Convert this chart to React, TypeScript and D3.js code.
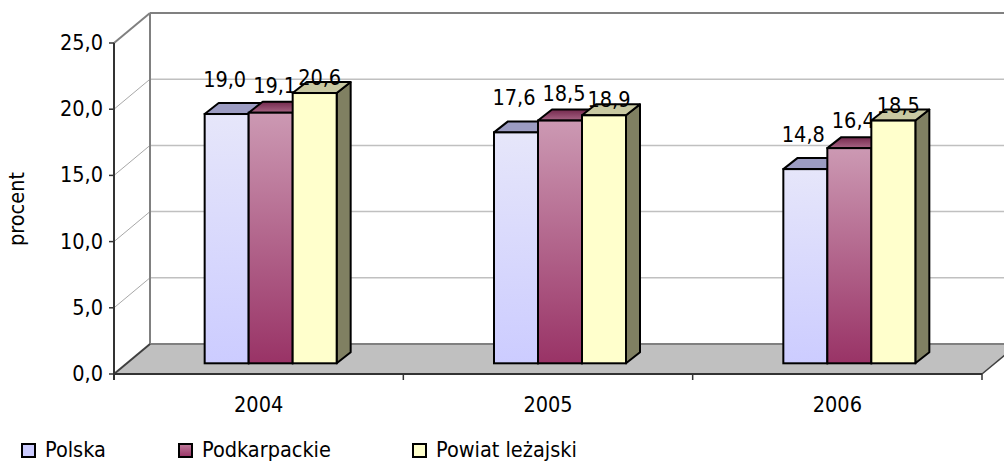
import React from 'react';
import * as d3 from 'd3';

const years = ['2004', '2005', '2006'];
const seriesNames = ['Polska', 'Podkarpackie', 'Powiat leżajski'];
const polska = [19.0, 17.6, 14.8];
const podkarpackie = [19.1, 18.5, 16.4];
const powiat = [20.6, 18.9, 18.5];
const yTicks = [0, 5, 10, 15, 20, 25];
const yTitle = 'procent';

const FONT = "'DejaVu Sans Condensed', 'DejaVu Sans', sans-serif";
const FS = 21.5;

const W = 1004;
const H = 461;
// oblique 3D geometry
const DX = 36; // floor/wall depth
const DY = 30;
const BDX = 14; // bar depth
const BDY = 11;
const BAR_OFF_X = 12; // bar front face offset into floor
const BAR_W = 44;

const fmt = (v: number) => d3.format('.1f')(v).replace('.', ',');

export default function App() {
  const series = [polska, podkarpackie, powiat];
  const x = d3.scaleBand<string>().domain(years).range([114, 982]).padding(0);
  const yF = d3.scaleLinear().domain([0, 25]).range([374, 43]);
  const yB = d3.scaleLinear().domain([0, 25]).range([363.3, 35.3]);
  const bw = x.bandwidth();
  const x0 = 114;
  const x1 = 982;

  const frontFills = ['url(#gPolska)', 'url(#gPodk)', '#FFFFCC'];
  const topFills = ['#9C9CC2', 'url(#gPodkTop)', '#C8C8A2'];
  const sideFills = ['#8888AA', '#6E2446', '#808062'];
  const legendFills = ['#CCCCFF', 'url(#gPodkLeg)', '#FFFFCC'];
  const labelDy = [27, 20, 8];
  const labelDx = [-2, 4, 5];

  const pts = (p: number[][]) => p.map((q) => q.join(',')).join(' ');

  return (
    <svg width={W} height={H} style={{ position: 'fixed', left: 0, top: 0, background: '#fff' }} fontFamily={FONT}>
      <defs>
        <linearGradient id="gPolska" x1="0" y1="0" x2="0" y2="1">
          <stop offset="0" stopColor="#E6E6FA" />
          <stop offset="1" stopColor="#CCCCFF" />
        </linearGradient>
        <linearGradient id="gPodk" x1="0" y1="0" x2="0" y2="1">
          <stop offset="0" stopColor="#CC99B3" />
          <stop offset="1" stopColor="#993366" />
        </linearGradient>
        <linearGradient id="gPodkTop" x1="0" y1="1" x2="0" y2="0">
          <stop offset="0" stopColor="#A86585" />
          <stop offset="1" stopColor="#73294D" />
        </linearGradient>
        <linearGradient id="gPodkLeg" x1="0" y1="0" x2="0" y2="1">
          <stop offset="0" stopColor="#C07C9C" />
          <stop offset="1" stopColor="#993366" />
        </linearGradient>
      </defs>

      {/* back wall */}
      <polygon points={pts([[x0 + DX, yF(25) - DY], [x1 + DX, yF(25) - DY], [x1 + DX, yF(0) - DY], [x0 + DX, yF(0) - DY]])} fill="#fff" />
      {/* back wall gridlines */}
      {yTicks.filter((t) => t > 0 && t < 25).map((t) => (
        <line key={'bg' + t} x1={x0 + DX} x2={x1 + DX} y1={yF(t) - DY} y2={yF(t) - DY} stroke="#C0C0C0" strokeWidth={1.5} />
      ))}
      {/* side wall gridlines */}
      {yTicks.filter((t) => t > 0 && t < 25).map((t) => (
        <line key={'sg' + t} x1={x0} x2={x0 + DX} y1={yF(t)} y2={yF(t) - DY} stroke="#A8A8A8" strokeWidth={1} />
      ))}
      {/* wall outlines */}
      <line x1={x0 + DX} x2={x1 + DX} y1={yF(25) - DY} y2={yF(25) - DY} stroke="#808080" strokeWidth={2} />
      <line x1={x0 + DX} x2={x0 + DX} y1={yF(25) - DY} y2={yF(0) - DY} stroke="#808080" strokeWidth={2} />
      <line x1={x0} x2={x0 + DX} y1={yF(25)} y2={yF(25) - DY} stroke="#808080" strokeWidth={2} />

      {/* floor */}
      <polygon points={pts([[x0, yF(0)], [x1, yF(0)], [x1 + DX, yF(0) - DY], [x0 + DX, yF(0) - DY]])} fill="#C0C0C0" />
      <line x1={x0 + DX} x2={x1 + DX} y1={yF(0) - DY} y2={yF(0) - DY} stroke="#808080" strokeWidth={2} />
      <line x1={x0} x2={x0 + DX} y1={yF(0)} y2={yF(0) - DY} stroke="#404040" strokeWidth={2} />
      <line x1={x1} x2={x1 + DX} y1={yF(0)} y2={yF(0) - DY} stroke="#404040" strokeWidth={1.5} />
      <line x1={x0} x2={x1} y1={yF(0)} y2={yF(0)} stroke="#333" strokeWidth={2} />

      {/* value axis */}
      <line x1={x0} x2={x0} y1={yF(25)} y2={yF(0) + 6} stroke="#333" strokeWidth={2} />
      {yTicks.map((t) => (
        <g key={'yt' + t}>
          <line x1={x0 - 5} x2={x0} y1={yF(t)} y2={yF(t)} stroke="#333" strokeWidth={1.5} />
          <text x={103} y={yF(t) + 7} textAnchor="end" fontSize={FS} fill="#000">{fmt(t)}</text>
        </g>
      ))}
      <text transform={`translate(24,209) rotate(-90)`} textAnchor="middle" fontSize={FS} fill="#000">{yTitle}</text>

      {/* category axis ticks & labels */}
      {d3.range(years.length + 1).map((i) => (
        <line key={'ct' + i} x1={x0 + i * bw} x2={x0 + i * bw} y1={yF(0)} y2={yF(0) + 6} stroke="#333" strokeWidth={1.5} />
      ))}
      {years.map((yr) => (
        <text key={'cl' + yr} x={(x(yr) as number) + bw / 2} y={412} textAnchor="middle" fontSize={FS} fill="#000">{yr}</text>
      ))}

      {/* bars */}
      {years.map((yr, ci) => {
        const gx = (x(yr) as number) + (bw - BAR_W * series.length) / 2 + BAR_OFF_X;
        return (
          <g key={'grp' + yr}>
            {series.map((s, si) => {
              const v = s[ci];
              const l = gx + si * BAR_W;
              const r = l + BAR_W;
              const top = yB(v);
              const bot = yB(0);
              return (
                <g key={'b' + si}>
                  <polygon points={pts([[r, top], [r + BDX, top - BDY], [r + BDX, bot - BDY], [r, bot]])} fill={sideFills[si]} stroke="#000" strokeWidth={2} strokeLinejoin="round" />
                  <polygon points={pts([[l, top], [r, top], [r + BDX, top - BDY], [l + BDX, top - BDY]])} fill={topFills[si]} stroke="#000" strokeWidth={2} strokeLinejoin="round" />
                  <rect x={l} y={top} width={BAR_W} height={bot - top} fill={frontFills[si]} stroke="#000" strokeWidth={2} />
                  <text x={l + BAR_W / 2 + labelDx[si]} y={top - labelDy[si]} textAnchor="middle" fontSize={FS} fill="#000">{fmt(v)}</text>
                </g>
              );
            })}
          </g>
        );
      })}

      {/* legend */}
      {seriesNames.map((name, i) => {
        const lx = [22, 179, 413][i];
        return (
          <g key={'lg' + i}>
            <rect x={lx} y={444} width={13} height={13} fill={legendFills[i]} stroke="#000" strokeWidth={2} />
            <text x={lx + 23} y={457} fontSize={FS} fill="#000">{name}</text>
          </g>
        );
      })}
    </svg>
  );
}
